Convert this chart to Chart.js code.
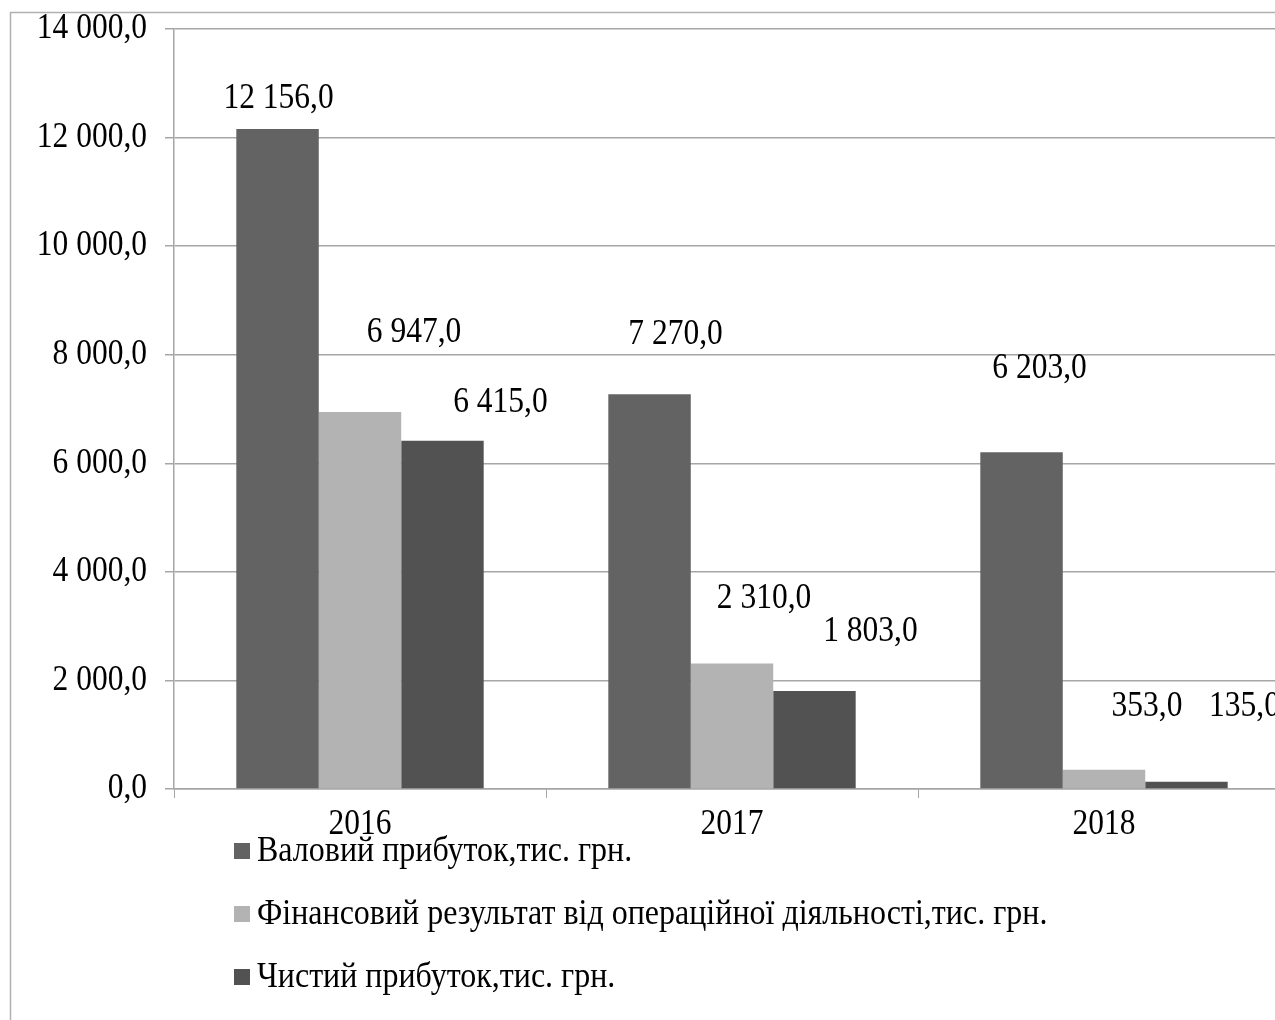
<!DOCTYPE html>
<html lang="uk">
<head>
<meta charset="utf-8">
<title>Фінансові результати 2016–2018</title>
<script src="https://cdn.jsdelivr.net/npm/chart.js@4/dist/chart.umd.min.js"></script>
<style>
  html, body { margin: 0; padding: 0; background: #fff; overflow: hidden; }
  #wrap { position: relative; width: 1300px; height: 1020px; }
</style>
</head>
<body>
<div id="wrap"><canvas id="profitChart"></canvas></div>
<script>
// роки
const years = ['2016', '2017', '2018'];

// показники, тис. грн.
const grossProfit = [12156, 7270, 6203];
const operatingResult = [6947, 2310, 353];
const netProfit = [6415, 1803, 135];

const seriesNames = [
  'Валовий прибуток,тис. грн.',
  'Фінансовий результат від операційної діяльності,тис. грн.',
  'Чистий прибуток,тис. грн.'
];

// шкала Y
const yMax = 14000;
const yStep = 2000;

const FONT = "'Liberation Serif', 'Times New Roman', serif";
const GRID = '#a6a6a6';
const TEXT_SIZE = 31.5;
const STRETCH = 1.13; // шрифт трохи витягнутий по вертикалі

// зсув підписів від верху стовпчика [dx, dy]
const labelShift = [
  [[1, -30], [26, -60], [18, -84]],
  [[54, -79], [32, -65], [43, -63]],
  [[58, -38], [56, -59], [58, -75]]
];

// 12156 -> "12 156,0"
function fmt(v) {
  const parts = v.toFixed(1).split('.');
  return parts[0].replace(/\B(?=(\d{3})+(?!\d))/g, ' ') + ',' + parts[1];
}

function drawText(ctx, text, x, y, align, size) {
  ctx.save();
  ctx.translate(x, y);
  ctx.scale(1, STRETCH);
  ctx.font = (size || TEXT_SIZE) + 'px ' + FONT;
  ctx.fillStyle = '#000';
  ctx.textAlign = align;
  ctx.textBaseline = 'middle';
  ctx.fillText(text, 0, 0);
  ctx.restore();
}

// рамка діаграми
const framePlugin = {
  id: 'frame',
  beforeDraw(chart) {
    const ctx = chart.ctx;
    ctx.save();
    ctx.strokeStyle = '#b0b0b0';
    ctx.lineWidth = 1.5;
    ctx.beginPath();
    ctx.moveTo(10.5, chart.height + 5);
    ctx.lineTo(10.5, 12.5);
    ctx.lineTo(chart.width + 5, 12.5);
    ctx.stroke();
    ctx.restore();
  }
};

// підписи осей (малюємо самі, щоб витягнути шрифт)
const axisLabels = {
  id: 'axisLabels',
  afterDraw(chart) {
    const ctx = chart.ctx;
    const ys = chart.scales.y;
    ys.ticks.forEach((t, i) => {
      drawText(ctx, fmt(t.value), 147, ys.getPixelForTick(i), 'right');
    });
    const xs = chart.scales.x;
    xs.ticks.forEach((t, i) => {
      drawText(ctx, years[t.value], xs.getPixelForTick(i), 825, 'center');
    });
  }
};

// підписи значень над стовпчиками
const valueLabels = {
  id: 'valueLabels',
  afterDatasetsDraw(chart) {
    const ctx = chart.ctx;
    chart.data.datasets.forEach((ds, i) => {
      chart.getDatasetMeta(i).data.forEach((bar, j) => {
        const s = labelShift[i][j];
        drawText(ctx, fmt(ds.data[j]), bar.x + s[0], bar.y + s[1], 'center');
      });
    });
  }
};

// легенда стовпчиком під віссю
const sideLegend = {
  id: 'sideLegend',
  afterDraw(chart) {
    const ctx = chart.ctx;
    chart.data.datasets.forEach((ds, i) => {
      const y = 851 + i * 63;
      ctx.fillStyle = ds.backgroundColor;
      ctx.fillRect(234, y - 8, 16, 16);
      drawText(ctx, ds.label, 257, y + 1, 'left', 32);
    });
  }
};

const colors = ['#636363', '#b3b3b3', '#525252'];

new Chart(document.getElementById('profitChart'), {
  type: 'bar',
  data: {
    labels: years,
    datasets: [grossProfit, operatingResult, netProfit].map((d, i) => ({
      label: seriesNames[i],
      data: d,
      backgroundColor: colors[i],
      borderWidth: 0,
      barPercentage: 1,
      categoryPercentage: 0.665
    }))
  },
  options: {
    responsive: true,
    maintainAspectRatio: false,
    animation: false,
    layout: { padding: { top: 29, right: 10, bottom: 171, left: 0 } },
    plugins: {
      legend: { display: false },
      tooltip: { enabled: false }
    },
    scales: {
      x: {
        afterFit(s) { s.height = 60; },
        grid: {
          offset: true,
          drawOnChartArea: false,
          drawTicks: true,
          tickLength: 9,
          color: GRID
        },
        border: { display: true, color: GRID, width: 1.5 },
        ticks: { display: false }
      },
      y: {
        min: 0,
        max: yMax,
        afterFit(s) { s.width = 174; },
        grid: {
          color: GRID,
          lineWidth: 1.5,
          drawTicks: true,
          tickLength: 9
        },
        border: { display: true, color: GRID, width: 1.5 },
        ticks: { display: false, stepSize: yStep }
      }
    }
  },
  plugins: [framePlugin, axisLabels, valueLabels, sideLegend]
});
</script>
</body>
</html>
